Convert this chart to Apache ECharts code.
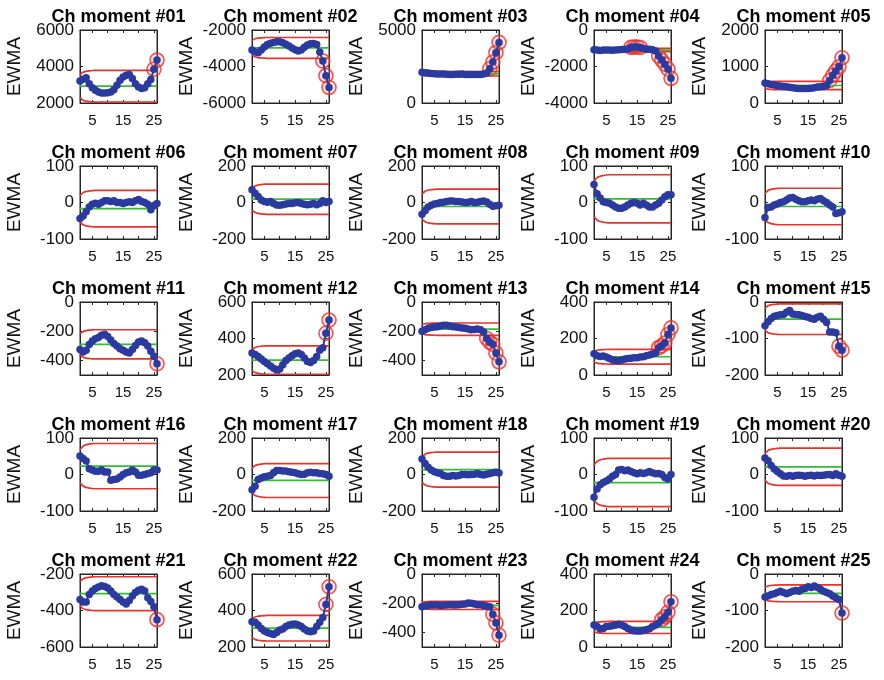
<!DOCTYPE html>
<html>
<head>
<meta charset="utf-8">
<script src="https://cdn.jsdelivr.net/npm/echarts@6/dist/echarts.min.js"></script>
<style>
  html, body { margin: 0; background: #fff; }
  #chart { width: 884px; height: 680px; }
</style>
</head>
<body>
<div id="chart"></div>
<script>
// x axis: sample index
const X_MIN = 1
const X_MAX = 26
const X_TICKS = [5, 10, 15, 20, 25]
const X_LABELS = [5, 15, 25]

// y axis per panel (#01 .. #25)
const Y_MIN = [2000, -6000, 0, -4000, 0, -100, -200, -200, -100, -100, -500, 200, -500, 0, -200, -100, -200, -200, -100, -100, -600, 200, -500, 0, -200]
const Y_MAX = [6000, -2000, 5000, 0, 2000, 100, 200, 200, 100, 100, 0, 600, 0, 400, 0, 100, 200, 200, 100, 100, -200, 600, 0, 400, 0]
const Y_TICKS = [
  [2000, 4000, 6000], [-6000, -4000, -2000], [0, 5000], [-4000, -2000, 0], [0, 1000, 2000],
  [-100, 0, 100], [-200, 0, 200], [-200, 0, 200], [-100, 0, 100], [-100, 0, 100],
  [-400, -200, 0], [200, 400, 600], [-400, -200, 0], [0, 200, 400], [-200, -100, 0],
  [-100, 0, 100], [-200, 0, 200], [-200, 0, 200], [-100, 0, 100], [-100, 0, 100],
  [-600, -400, -200], [200, 400, 600], [-400, -200, 0], [0, 200, 400], [-200, -100, 0]
]

// centre line and steady-state control limits
const CL = [2920, -2980, 2000, -1100, 480, -17, 18, -22, 10, -11, -290, 282, -186, 100, -47, 23, -32, 27, -22, 21, -308, 303, -215, 107, -53]
const UCL = [3790, -2410, 2150, -1010, 595, 33, 101, 73, 76, 39, -190, 360, -144, 140, -5, 85, 60, 123, 44, 72, -215, 373, -187, 140, -30]
const LCL = [2050, -3550, 1850, -1190, 365, -67, -65, -117, -56, -61, -390, 204, -228, 60, -89, -39, -126, -69, -88, -30, -401, 233, -243, 74, -76]

// limits open up over the first samples (fraction of steady width)
const LIMIT_X = [1, 2, 3, 4, 5, 6, 26]
const LIMIT_RAMP = [0.72, 0.88, 0.94, 0.97, 0.99, 1, 1]

// EWMA values, samples 1..26
const EWMA = [
  [3210, 3300, 3380, 3060, 2840, 2700, 2600, 2550, 2550, 2560, 2600, 2730, 2970, 3250, 3430, 3520, 3560, 3340, 3060, 2880, 2790, 2840, 3060, 3290, 3850, 4350],
  [-3100, -3200, -3250, -3100, -2930, -2800, -2720, -2680, -2650, -2650, -2700, -2780, -2880, -2980, -3080, -3150, -3100, -2950, -2820, -2760, -2740, -2800, -3200, -3700, -4500, -5150],
  [2100, 2080, 2050, 2020, 2000, 1990, 1980, 1980, 1970, 1960, 1960, 1970, 1970, 1980, 1960, 1950, 1950, 1960, 1950, 1960, 1980, 2050, 2350, 2800, 3450, 4150],
  [-1080, -1100, -1120, -1100, -1090, -1100, -1110, -1100, -1080, -1070, -1060, -1040, -950, -930, -930, -960, -1020, -1050, -1060, -1080, -1150, -1430, -1650, -1870, -2140, -2650],
  [550, 530, 510, 490, 475, 465, 455, 445, 430, 415, 405, 400, 395, 395, 400, 405, 420, 435, 445, 450, 480, 615, 760, 880, 990, 1240],
  [-44, -37, -25, -12, -5, -2, -5, 0, 5, 5, 3, 5, 0, 0, -3, 0, 2, 0, 5, 8, 3, 0, -5, -20, -8, -3],
  [70, 51, 33, 14, 5, 1, 5, -5, -14, -15, -12, -8, -5, -5, -2, 0, -5, -10, -12, -10, -5, -12, -5, 10, 0, 5],
  [-65, -45, -25, -15, -8, -5, 0, 2, 5, 8, 8, 5, 5, 3, 0, 2, 5, 0, 2, 5, 8, 3, -10, -20, -18, -15],
  [49, 24, 12, 2, 0, -2, -7, -12, -16, -16, -12, -7, -2, 0, -2, -7, -2, -7, -12, -12, -7, -2, 7, 16, 21, 21],
  [-41, -14, -12, -7, -4, 0, 2, 7, 12, 14, 9, 5, 2, 2, 5, 7, 5, 9, 11, 5, 0, -7, -12, -30, -28, -25],
  [-326, -342, -330, -291, -267, -251, -244, -228, -221, -237, -260, -284, -302, -321, -330, -342, -349, -326, -298, -274, -267, -279, -302, -337, -372, -423],
  [321, 312, 302, 288, 274, 261, 250, 237, 228, 233, 256, 280, 293, 306, 316, 321, 312, 293, 274, 269, 280, 302, 336, 350, 429, 501],
  [-200, -190, -180, -175, -172, -170, -165, -160, -160, -165, -170, -172, -175, -178, -180, -185, -190, -188, -185, -190, -205, -250, -275, -290, -350, -410],
  [117, 106, 102, 104, 99, 91, 84, 80, 78, 82, 88, 90, 92, 95, 95, 98, 100, 105, 110, 115, 120, 150, 160, 175, 222, 258],
  [-65, -54, -45, -39, -37, -35, -34, -28, -23, -33, -34, -35, -37, -40, -42, -45, -47, -42, -39, -47, -56, -82, -82, -84, -121, -132],
  [51, 44, 37, 16, 12, 9, 9, 12, 7, 7, -16, -14, -12, -7, 0, 5, 7, 12, 7, -2, -2, 0, 3, 5, 12, 12],
  [-84, -65, -28, -19, -13, -9, -6, 9, 22, 22, 19, 19, 15, 13, 9, 4, 0, 2, 9, 13, 10, 9, 6, 4, 0, -9],
  [85, 60, 40, 25, 15, 10, 5, -5, -10, -10, -5, -8, -5, 0, 0, -2, 0, 2, 5, 0, -3, 2, 5, 10, 12, 8],
  [-62, -40, -28, -22, -18, -12, -5, 0, 12, 14, 10, 12, 8, 5, 2, 5, 3, 5, 8, 5, 2, 3, 0, -8, -12, 0],
  [45, 38, 25, 15, 8, 2, -4, -5, -3, -5, -3, -2, -3, -5, -3, -2, -4, -2, -3, -2, -1, 0, -3, 2, -2, -5],
  [-340, -353, -353, -312, -293, -280, -271, -265, -268, -277, -293, -312, -326, -340, -353, -364, -345, -321, -302, -289, -284, -293, -330, -350, -380, -450],
  [339, 336, 321, 302, 288, 280, 274, 269, 280, 293, 299, 312, 321, 325, 326, 321, 312, 299, 288, 284, 288, 312, 336, 362, 433, 530],
  [-225, -220, -215, -212, -212, -213, -215, -214, -212, -210, -212, -213, -210, -208, -205, -198, -200, -205, -210, -210, -215, -220, -225, -275, -335, -420],
  [121, 112, 99, 102, 112, 114, 117, 121, 125, 121, 112, 102, 93, 89, 87, 87, 90, 95, 100, 112, 121, 130, 150, 165, 190, 248],
  [-63, -60, -56, -54, -51, -47, -51, -54, -51, -47, -45, -47, -42, -40, -35, -37, -33, -37, -42, -47, -51, -54, -60, -65, -70, -107]
]

// layout of the 5x5 panel grid
const COL_LEFT = [80, 252, 422, 594, 765]
const ROW_TOP = [30, 166, 302, 438, 574]
const BOX_W = 77
const BOX_H = 73

const FONT = 'Liberation Sans, Arial, sans-serif'
const BLUE = '#2b3a9e'
const GREEN = '#33bb33'
const RED = '#e8322a'
const AXIS = '#262626'

const chart = echarts.init(document.getElementById('chart'))

const grid = [], xAxis = [], yAxis = [], series = [], graphic = []

// limit value at step k of the ramp
function limitAt(i, lim, k) {
  return CL[i] + (lim[i] - CL[i]) * LIMIT_RAMP[k]
}
// limit value at sample x
function limitAtX(i, lim, x) {
  const k = LIMIT_X.indexOf(x)
  return k >= 0 && k < LIMIT_X.length - 1 ? limitAt(i, lim, k) : lim[i]
}

for (let i = 0; i < 25; i++) {
  const r = Math.floor(i / 5), c = i % 5
  const left = COL_LEFT[c], top = ROW_TOP[r]

  grid.push({
    left: left, top: top, width: BOX_W, height: BOX_H,
    show: true, borderColor: AXIS, borderWidth: 1, backgroundColor: 'transparent'
  })

  graphic.push({
    type: 'text', x: left + BOX_W / 2, y: top - 13,
    style: {
      text: 'Ch moment #' + String(i + 1).padStart(2, '0'),
      font: 'bold 18px ' + FONT, fill: '#000',
      textAlign: 'center', textVerticalAlign: 'middle'
    }
  })

  const tickStyle = { inside: true, length: 3, lineStyle: { color: AXIS } }

  xAxis.push({
    gridIndex: i, type: 'value', min: X_MIN, max: X_MAX, position: 'bottom',
    axisLine: { show: true, onZero: false, lineStyle: { color: AXIS } },
    axisTick: Object.assign({ customValues: X_TICKS }, tickStyle),
    axisLabel: { customValues: X_LABELS, fontSize: 15, fontFamily: FONT, color: '#111', margin: 10 },
    splitLine: { show: false }
  })
  xAxis.push({
    gridIndex: i, type: 'value', min: X_MIN, max: X_MAX, position: 'top',
    axisLine: { show: true, onZero: false, lineStyle: { color: AXIS } },
    axisTick: Object.assign({ customValues: X_TICKS }, tickStyle),
    axisLabel: { show: false },
    splitLine: { show: false }
  })
  yAxis.push({
    gridIndex: i, type: 'value', min: Y_MIN[i], max: Y_MAX[i], position: 'left',
    name: 'EWMA', nameLocation: 'middle', nameGap: 56, nameRotate: 90,
    nameTextStyle: { fontSize: 19, fontFamily: FONT, color: '#111' },
    axisLine: { show: true, onZero: false, lineStyle: { color: AXIS } },
    axisTick: Object.assign({ customValues: Y_TICKS[i] }, tickStyle),
    axisLabel: {
      customValues: Y_TICKS[i], fontSize: 17, fontFamily: FONT, color: '#111', margin: 6,
      formatter: v => String(v)
    },
    splitLine: { show: false }
  })
  yAxis.push({
    gridIndex: i, type: 'value', min: Y_MIN[i], max: Y_MAX[i], position: 'right',
    axisLine: { show: true, onZero: false, lineStyle: { color: AXIS } },
    axisTick: Object.assign({ customValues: Y_TICKS[i] }, tickStyle),
    axisLabel: { show: false },
    splitLine: { show: false }
  })

  const xi = 2 * i, yi = 2 * i
  const limLine = (lim) => ({
    type: 'line', xAxisIndex: xi, yAxisIndex: yi, silent: true,
    showSymbol: false, smooth: 0.3,
    lineStyle: { color: RED, width: 1.7 },
    data: LIMIT_X.map((x, k) => [x, limitAt(i, lim, k)])
  })
  series.push(limLine(UCL))
  series.push(limLine(LCL))
  series.push({
    type: 'line', xAxisIndex: xi, yAxisIndex: yi, silent: true, showSymbol: false,
    lineStyle: { color: GREEN, width: 1.7 },
    data: [[X_MIN, CL[i]], [X_MAX, CL[i]]]
  })

  const pts = EWMA[i].map((v, k) => [k + 1, v])
  const out = pts.filter(p => p[1] > limitAtX(i, UCL, p[0]) || p[1] < limitAtX(i, LCL, p[0]))
  series.push({
    type: 'scatter', xAxisIndex: xi, yAxisIndex: yi, silent: true,
    symbol: 'circle', symbolSize: 14,
    itemStyle: { color: 'rgba(255,140,140,0.3)', borderColor: RED, borderWidth: 1.6 },
    data: out
  })
  series.push({
    type: 'line', xAxisIndex: xi, yAxisIndex: yi, silent: true,
    symbol: 'circle', symbolSize: 7.5, showSymbol: true,
    itemStyle: { color: BLUE },
    lineStyle: { color: BLUE, width: 2 },
    data: pts
  })
}

chart.setOption({
  animation: false,
  backgroundColor: '#fff',
  grid: grid,
  xAxis: xAxis,
  yAxis: yAxis,
  series: series,
  graphic: graphic
})
</script>
</body>
</html>
